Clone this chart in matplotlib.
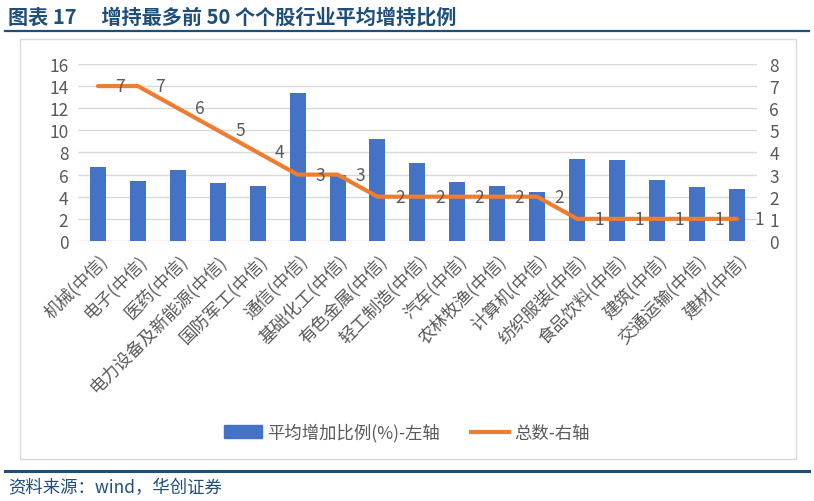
import numpy as np
import matplotlib
matplotlib.use('Agg')
import matplotlib.pyplot as plt
from matplotlib.patches import Rectangle
from matplotlib.lines import Line2D

plt.rcParams['font.family'] = ['Noto Sans CJK SC', 'DejaVu Sans']
plt.rcParams['axes.unicode_minus'] = False

# data
industries = ['机械(中信)', '电子(中信)', '医药(中信)', '电力设备及新能源(中信)', '国防军工(中信)',
              '通信(中信)', '基础化工(中信)', '有色金属(中信)', '轻工制造(中信)', '汽车(中信)',
              '农林牧渔(中信)', '计算机(中信)', '纺织服装(中信)', '食品饮料(中信)', '建筑(中信)',
              '交通运输(中信)', '建材(中信)']
avg_increase = [6.72, 5.45, 6.42, 5.2, 4.97, 13.4, 5.97, 9.22, 7.08, 5.33,
                4.97, 4.4, 7.44, 7.35, 5.54, 4.91, 4.67]
total_count = [7, 7, 6, 5, 4, 3, 3, 2, 2, 2, 2, 2, 1, 1, 1, 1, 1]

blue = '#4472C4'
orange = '#ED7D31'
grey = '#595959'
navy = '#1F4E79'

fig = plt.figure(figsize=(8.14, 5.02), dpi=100)

# title and rules
fig.text(0.010, 0.966, '图表 17　 增持最多前 50 个个股行业平均增持比例', fontsize=14.5,
         fontweight='bold', color=navy, va='center', ha='left')
fig.add_artist(Line2D([0.006, 0.994], [0.936, 0.936], color=navy, lw=1.6))
fig.add_artist(Rectangle((0.025, 0.083), 0.953, 0.837, fill=False, edgecolor='#D9D9D9', lw=1))
fig.add_artist(Line2D([0.006, 0.994], [0.060, 0.060], color=navy, lw=2.2))
fig.text(0.010, 0.028, '资料来源：wind，华创证券', fontsize=12.5, style='italic',
         color=navy, va='center', ha='left')

ax = fig.add_axes([0.0958, 0.518, 0.834, 0.3526])
x = np.arange(len(industries))
ax.bar(x, avg_increase, width=0.4, color=blue, zorder=2)
ax.set_xlim(-0.5, len(industries) - 0.5)
ax.set_ylim(0, 16)
ax.set_yticks(np.arange(0, 17, 2))
ax.grid(axis='y', color='#D9D9D9', lw=1, zorder=0)
ax.set_axisbelow(True)
for s in ax.spines.values():
    s.set_visible(False)
ax.tick_params(axis='both', length=0, labelsize=12.5, colors=grey)
ax.tick_params(axis='y', pad=7)
ax.set_xticks(x)
ax.set_xticklabels(industries, rotation=45, ha='right', rotation_mode='anchor', fontsize=12.5)
ax.tick_params(axis='x', pad=7)

ax2 = ax.twinx()
ax2.plot(x, total_count, color=orange, lw=3, solid_capstyle='round', zorder=3)
ax2.set_ylim(0, 8)
ax2.set_yticks(np.arange(0, 9, 1))
for s in ax2.spines.values():
    s.set_visible(False)
ax2.tick_params(axis='y', length=0, labelsize=12.5, colors=grey, pad=9)
for xi, v in zip(x, total_count):
    ax2.annotate(str(v), (xi, v), xytext=(16, 0), textcoords='offset points',
                 ha='center', va='center', fontsize=12.5, color=grey)

handles = [Rectangle((0, 0), 1, 1, color=blue), Line2D([0], [0], color=orange, lw=3)]
fig.legend(handles, ['平均增加比例(%)-左轴', '总数-右轴'], loc='center',
           bbox_to_anchor=(0.5, 0.137), ncol=2, frameon=False, fontsize=12.5,
           labelcolor=grey, handlelength=2.2, handletextpad=0.3, columnspacing=1.8)

fig.savefig('out.png', dpi=100)
